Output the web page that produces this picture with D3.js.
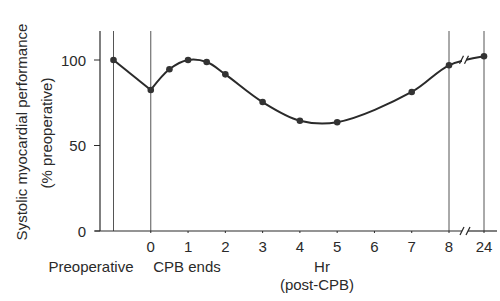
<!DOCTYPE html>
<html>
<head>
<meta charset="utf-8">
<script src="https://cdn.jsdelivr.net/npm/d3@7"></script>
<style>
  body { margin: 0; background: #fff; }
  text { font-family: "Liberation Sans", Arial, sans-serif; fill: #2a2a2a; font-size: 15px; }
</style>
</head>
<body>
<svg width="500" height="301"></svg>
<script>
// data (x in hours post-CPB, preoperative placed at -1)
const hours = [-1, 0, 0.5, 1, 1.5, 2, 3, 4, 5, 7, 8, 24];
const perf = [100, 82.5, 94.6, 100, 98.8, 91.6, 75.4, 64.5, 63.6, 81.3, 96.9, 102.2];
const xTicks = [0, 1, 2, 3, 4, 5, 6, 7, 8, 24];
const yTicks = [0, 50, 100];
const markerHours = [-1, 0, 8, 24];

const svg = d3.select('svg');
const ink = '#2a2a2a';

// broken x scale: 8 -> 24 squeezed after the break
const x = d3.scaleLinear()
  .domain([-1, 8, 24])
  .range([113.5, 449, 484]);
const y = d3.scaleLinear()
  .domain([0, 100])
  .range([231, 60]);

const plotLeft = 100, plotRight = 497, plotTop = 31;

// vertical reference lines
svg.selectAll('line.mark')
  .data(markerHours)
  .enter()
  .append('line')
  .attr('class', 'mark')
  .attr('x1', d => x(d)).attr('x2', d => x(d))
  .attr('y1', plotTop).attr('y2', y(0))
  .attr('stroke', '#555').attr('stroke-width', 1);

// y axis
svg.append('line')
  .attr('x1', plotLeft).attr('x2', plotLeft)
  .attr('y1', plotTop).attr('y2', y(0))
  .attr('stroke', ink).attr('stroke-width', 1.2);
svg.selectAll('line.ytick')
  .data(yTicks)
  .enter()
  .append('line')
  .attr('class', 'ytick')
  .attr('x1', plotLeft - 6).attr('x2', plotLeft)
  .attr('y1', d => y(d)).attr('y2', d => y(d))
  .attr('stroke', ink);
svg.selectAll('text.ylab')
  .data(yTicks)
  .enter()
  .append('text')
  .attr('class', 'ylab')
  .attr('x', plotLeft - 14)
  .attr('y', d => y(d) + 5.5)
  .attr('text-anchor', 'end')
  .text(d => d);

// x axis with a break before 24
const breakX = 465;
svg.append('line')
  .attr('x1', 95).attr('x2', breakX - 3)
  .attr('y1', y(0)).attr('y2', y(0))
  .attr('stroke', ink).attr('stroke-width', 1.2);
svg.append('line')
  .attr('x1', breakX + 3).attr('x2', plotRight)
  .attr('y1', y(0)).attr('y2', y(0))
  .attr('stroke', ink).attr('stroke-width', 1.2);
[-3, 3].forEach(o => {
  svg.append('line')
    .attr('x1', breakX + o - 2).attr('x2', breakX + o + 2)
    .attr('y1', y(0) + 4).attr('y2', y(0) - 4)
    .attr('stroke', ink).attr('stroke-width', 1.2);
});
svg.selectAll('line.xtick')
  .data(xTicks)
  .enter()
  .append('line')
  .attr('class', 'xtick')
  .attr('x1', d => x(d)).attr('x2', d => x(d))
  .attr('y1', y(0)).attr('y2', y(0) + 2)
  .attr('stroke', ink);
svg.selectAll('text.xlab')
  .data(xTicks)
  .enter()
  .append('text')
  .attr('class', 'xlab')
  .attr('x', d => x(d))
  .attr('y', 252)
  .attr('text-anchor', 'middle')
  .text(d => d);

// category / axis labels
svg.append('text').attr('x', 91).attr('y', 272).attr('text-anchor', 'middle')
  .text('Preoperative');
svg.append('text').attr('x', 187).attr('y', 272).attr('text-anchor', 'middle')
  .text('CPB ends');
svg.append('text').attr('x', 322).attr('y', 272).attr('text-anchor', 'middle')
  .text('Hr');
svg.append('text').attr('x', 317).attr('y', 290).attr('text-anchor', 'middle')
  .text('(post-CPB)');

svg.append('text')
  .attr('transform', 'translate(27,132) rotate(-90)')
  .attr('text-anchor', 'middle')
  .text('Systolic myocardial performance');
svg.append('text')
  .attr('transform', 'translate(52,133) rotate(-90)')
  .attr('text-anchor', 'middle')
  .text('(% preoperative)');

// curve: nearly straight drop to CPB end, smooth afterwards
const pts = hours.map((h, i) => [h, perf[i]]);
const line = d3.line()
  .x(d => x(d[0]))
  .y(d => y(d[1]));
svg.append('path')
  .datum(pts.slice(0, 2))
  .attr('d', line.curve(d3.curveLinear))
  .attr('fill', 'none')
  .attr('stroke', ink)
  .attr('stroke-width', 2);
svg.append('path')
  .datum(pts.slice(1))
  .attr('d', line.curve(d3.curveCatmullRom.alpha(0.5)))
  .attr('fill', 'none')
  .attr('stroke', ink)
  .attr('stroke-width', 2);

// break on the curve
const bx = 464, by = y(100.2);
svg.append('rect')
  .attr('x', bx - 2).attr('y', by - 6)
  .attr('width', 4).attr('height', 12)
  .attr('fill', '#fff');
[-2.5, 2.5].forEach(o => {
  svg.append('line')
    .attr('x1', bx + o - 2).attr('x2', bx + o + 2)
    .attr('y1', by + 4).attr('y2', by - 4)
    .attr('stroke', ink).attr('stroke-width', 1.2);
});

// points
svg.selectAll('circle')
  .data(pts)
  .enter()
  .append('circle')
  .attr('cx', d => x(d[0]))
  .attr('cy', d => y(d[1]))
  .attr('r', 3.3)
  .attr('fill', '#333');
</script>
</body>
</html>
